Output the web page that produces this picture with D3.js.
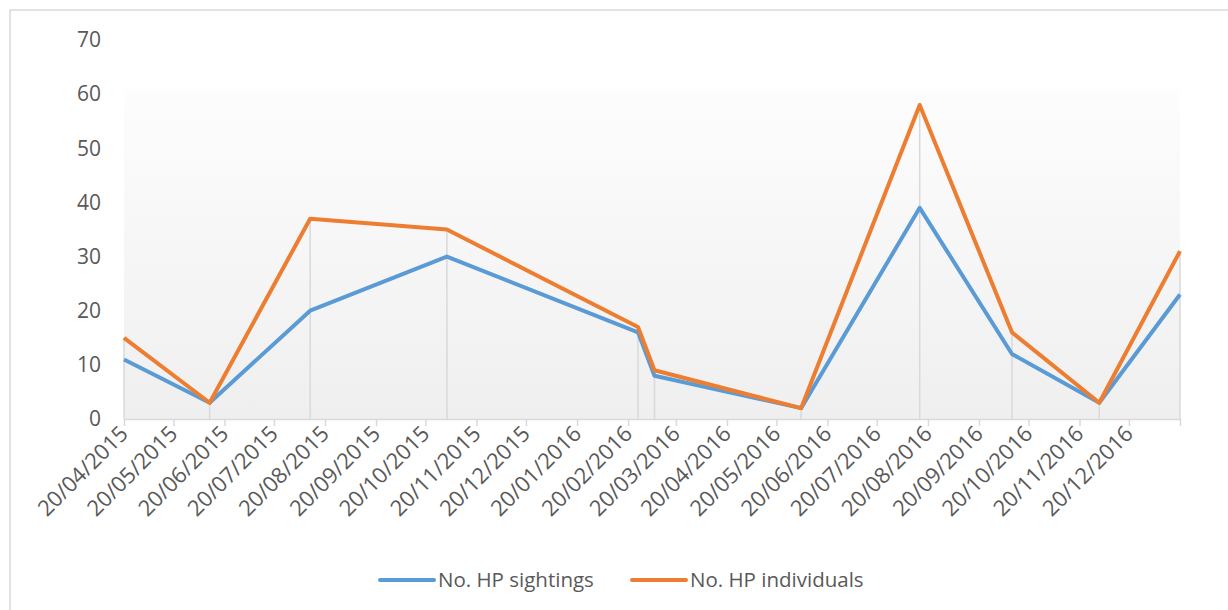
<!DOCTYPE html>
<html>
<head>
<meta charset="utf-8">
<script src="https://cdn.jsdelivr.net/npm/d3@7"></script>
<style>
  html, body { margin: 0; padding: 0; background: #fff; }
  svg { display: block; font-family: "Open Sans", "Noto Sans", sans-serif; }
</style>
</head>
<body>
<svg id="chart" width="1228" height="610"></svg>
<script>
// ---- data ----
const dates = ["20/04/2015","11/06/2015","11/08/2015","02/11/2015","26/02/2016","07/03/2016",
               "04/06/2016","15/08/2016","10/10/2016","02/12/2016","20/01/2017"];
const sightings   = [11, 3, 20, 30, 16, 8, 2, 39, 12, 3, 23];
const individuals = [15, 3, 37, 35, 17, 9, 2, 58, 16, 3, 31];
const seriesNames = ["No. HP sightings", "No. HP individuals"];
const yTicks = [0, 10, 20, 30, 40, 50, 60, 70];
const xDomain = ["20/04/2015", "20/01/2017"];

const parse = d3.timeParse("%d/%m/%Y");
const fmt = d3.timeFormat("%d/%m/%Y");

const svg = d3.select("#chart");
const W = 1228, H = 610;
const mLeft = 124, mRight = 1180, mTop = 40, mBottom = 419;

const x = d3.scaleTime().domain(xDomain.map(parse)).range([mLeft, mRight]);
const y = d3.scaleLinear().domain([0, 70]).range([mBottom, mTop]);

// outer border
svg.append("rect").attr("x", 10).attr("y", 10).attr("width", W + 20).attr("height", H + 20)
  .attr("fill", "#fff").attr("stroke", "#d9d9d9").attr("stroke-width", 1.5);

// plot area gradient
const defs = svg.append("defs");
const grad = defs.append("linearGradient").attr("id", "bg").attr("x1", 0).attr("y1", 0).attr("x2", 0).attr("y2", 1);
grad.append("stop").attr("offset", "0%").attr("stop-color", "#fdfdfd");
grad.append("stop").attr("offset", "100%").attr("stop-color", "#efefef");
svg.append("rect").attr("x", mLeft).attr("y", 89).attr("width", mRight - mLeft).attr("height", mBottom - 89)
  .attr("fill", "url(#bg)");

// y labels
svg.append("g").selectAll("text").data(yTicks).join("text")
  .attr("x", 101).attr("y", d => y(d)).attr("dy", "0.35em")
  .attr("text-anchor", "end").attr("fill", "#595959").attr("font-size", 21)
  .text(d => d);

// drop lines
const pts = dates.map((d, i) => ({ date: parse(d), s: sightings[i], n: individuals[i] }));
svg.append("g").selectAll("line").data(pts).join("line")
  .attr("x1", d => x(d.date)).attr("x2", d => x(d.date))
  .attr("y1", d => y(Math.max(d.s, d.n))).attr("y2", mBottom)
  .attr("stroke", "#d9d9d9").attr("stroke-width", 1.5);

// x axis
const d0 = parse(xDomain[0]), d1 = parse(xDomain[1]);
const monthTicks = d3.timeMonth.range(d3.timeMonth.floor(d0), d3.timeMonth.offset(d1, 1))
  .map(d => new Date(d.getFullYear(), d.getMonth(), 20))
  .filter(d => d >= d0 && d <= d1);
const xAxis = d3.axisBottom(x).tickValues(monthTicks).tickSize(7).tickSizeOuter(0)
  .tickFormat(d => (+d === +d1 ? "" : fmt(d)));
const gx = svg.append("g").attr("transform", `translate(0,${mBottom})`).call(xAxis);
gx.select(".domain").attr("stroke", "#d9d9d9").attr("stroke-width", 1.5);
gx.selectAll(".tick line").attr("stroke", "#d9d9d9").attr("stroke-width", 1.5);
gx.selectAll(".tick text")
  .attr("fill", "#595959").attr("font-size", 22).attr("font-family", "'Open Sans', sans-serif")
  .attr("text-anchor", "end").attr("dy", null).attr("y", 0)
  .attr("transform", "translate(5,16) rotate(-45)");

// lines
const lineS = d3.line().x(d => x(d.date)).y(d => y(d.s));
const lineN = d3.line().x(d => x(d.date)).y(d => y(d.n));
const colors = ["#5b9bd5", "#ed7d31"];
svg.append("path").datum(pts).attr("d", lineS).attr("fill", "none")
  .attr("stroke", colors[0]).attr("stroke-width", 4).attr("stroke-linejoin", "round");
svg.append("path").datum(pts).attr("d", lineN).attr("fill", "none")
  .attr("stroke", colors[1]).attr("stroke-width", 4).attr("stroke-linejoin", "round");

// legend
const legX = [380, 632];
const lg = svg.append("g").selectAll("g").data(seriesNames).join("g")
  .attr("transform", (d, i) => `translate(${legX[i]},580)`);
lg.append("line").attr("x1", 0).attr("x2", 54).attr("y1", 0).attr("y2", 0)
  .attr("stroke", (d, i) => colors[i]).attr("stroke-width", 4).attr("stroke-linecap", "round");
lg.append("text").attr("x", 58).attr("y", 0).attr("dy", "0.35em")
  .attr("fill", "#595959").attr("font-size", 20.5).text(d => d);
</script>
</body>
</html>
